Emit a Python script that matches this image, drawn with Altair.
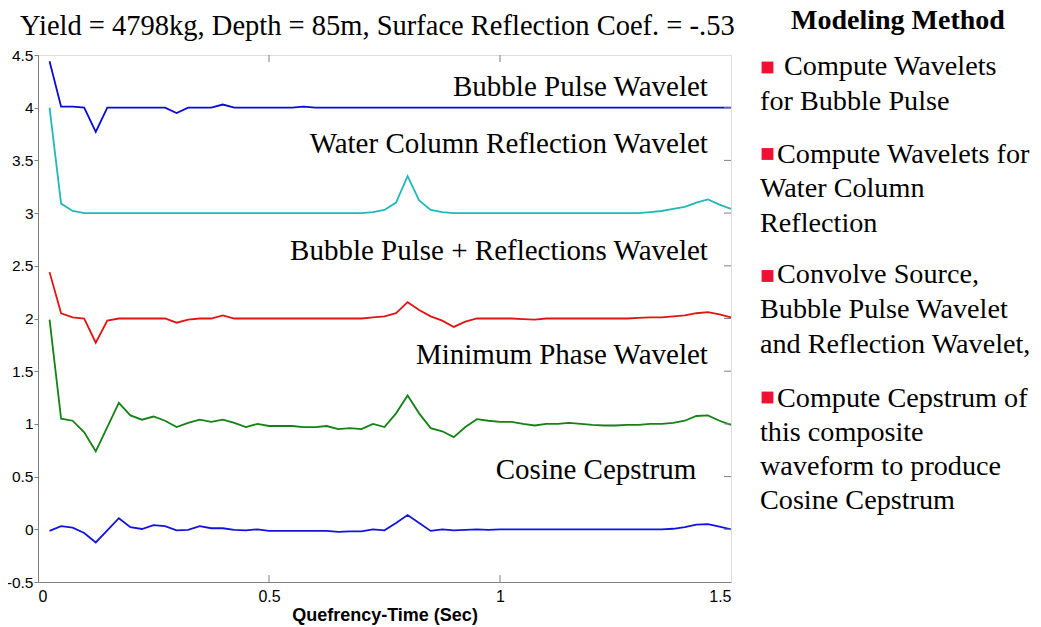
import altair as alt
import pandas as pd

# ---------------- data ----------------
times = [0.025, 0.05, 0.075, 0.1, 0.125, 0.15, 0.175, 0.2, 0.225, 0.25,
         0.275, 0.3, 0.325, 0.35, 0.375, 0.4, 0.425, 0.45, 0.475, 0.5,
         0.525, 0.55, 0.575, 0.6, 0.625, 0.65, 0.675, 0.7, 0.725, 0.75,
         0.775, 0.8, 0.825, 0.85, 0.875, 0.9, 0.925, 0.95, 0.975, 1.0,
         1.025, 1.05, 1.075, 1.1, 1.125, 1.15, 1.175, 1.2, 1.225, 1.25,
         1.275, 1.3, 1.325, 1.35, 1.375, 1.4, 1.425, 1.45, 1.475, 1.5]

bubble = [4.44, 4.01, 4.01, 4.00, 3.77, 4.00, 4.00, 4.00, 4.00, 4.00,
          4.00, 3.95, 4.00, 4.00, 4.00, 4.03, 4.00, 4.00, 4.00, 4.00,
          4.00, 4.00, 4.01, 4.00, 4.00, 4.00, 4.00, 4.00, 4.00, 4.00,
          4.00, 4.00, 4.00, 4.00, 4.00, 4.00, 4.00, 4.00, 4.00, 4.00,
          4.00, 4.00, 4.00, 4.00, 4.00, 4.00, 4.00, 4.00, 4.00, 4.00,
          4.00, 4.00, 4.00, 4.00, 4.00, 4.00, 4.00, 4.00, 4.00, 4.00]

water = [4.00, 3.09, 3.02, 3.00, 3.00, 3.00, 3.00, 3.00, 3.00, 3.00,
         3.00, 3.00, 3.00, 3.00, 3.00, 3.00, 3.00, 3.00, 3.00, 3.00,
         3.00, 3.00, 3.00, 3.00, 3.00, 3.00, 3.00, 3.00, 3.01, 3.03,
         3.10, 3.35, 3.12, 3.03, 3.01, 3.00, 3.00, 3.00, 3.00, 3.00,
         3.00, 3.00, 3.00, 3.00, 3.00, 3.00, 3.00, 3.00, 3.00, 3.00,
         3.00, 3.00, 3.01, 3.02, 3.04, 3.06, 3.10, 3.13, 3.08, 3.04]

combined = [2.44, 2.05, 2.01, 2.00, 1.77, 1.98, 2.00, 2.00, 2.00, 2.00,
            2.00, 1.96, 1.99, 2.00, 2.00, 2.03, 2.00, 2.00, 2.00, 2.00,
            2.00, 2.00, 2.00, 2.00, 2.00, 2.00, 2.00, 2.00, 2.01, 2.02,
            2.05, 2.155, 2.08, 2.02, 1.98, 1.92, 1.97, 2.00, 2.00, 2.00,
            2.00, 1.995, 1.99, 2.00, 2.00, 2.00, 2.00, 2.00, 2.00, 2.00,
            2.00, 2.005, 2.01, 2.01, 2.02, 2.03, 2.05, 2.06, 2.04, 2.01]

minphase = [1.99, 1.05, 1.03, 0.92, 0.74, 0.97, 1.20, 1.08, 1.04, 1.07,
            1.03, 0.97, 1.01, 1.04, 1.02, 1.04, 1.01, 0.97, 1.00, 0.98,
            0.98, 0.98, 0.97, 0.97, 0.98, 0.95, 0.96, 0.95, 1.00, 0.97,
            1.10, 1.27, 1.10, 0.96, 0.93, 0.875, 0.97, 1.045, 1.03, 1.02,
            1.02, 1.00, 0.985, 1.00, 1.00, 1.01, 1.00, 0.99, 0.985, 0.985,
            0.99, 0.99, 1.00, 1.00, 1.01, 1.03, 1.075, 1.08, 1.03, 0.99]

cepstrum = [-0.015, 0.03, 0.015, -0.035, -0.125, -0.01, 0.105, 0.02, 0.003, 0.04,
            0.03, -0.01, -0.005, 0.03, 0.01, 0.01, -0.005, -0.01, 0.0, -0.015,
            -0.015, -0.015, -0.015, -0.015, -0.015, -0.025, -0.02, -0.02, 0.0, -0.01,
            0.06, 0.135, 0.06, -0.015, 0.0, -0.01, -0.005, 0.0, -0.005, 0.0,
            0.0, 0.0, 0.0, 0.0, 0.0, 0.0, 0.0, 0.0, 0.0, 0.0,
            0.0, 0.0, 0.0, 0.0, 0.005, 0.02, 0.045, 0.05, 0.025, 0.0]

series_names = ["Bubble Pulse Wavelet", "Water Column Reflection Wavelet",
                "Bubble Pulse + Reflections Wavelet", "Minimum Phase Wavelet",
                "Cosine Cepstrum"]
series_values = [bubble, water, combined, minphase, cepstrum]
series_colors = ["#0a0ad8", "#22b8b8", "#e01414", "#148214", "#1414d8"]

label_x = [1.45, 1.45, 1.45, 1.45, 1.425]
label_y = [4.11, 3.57, 2.555, 1.57, 0.48]

x_ticks = [0, 0.5, 1, 1.5]
y_ticks = [-0.5, 0, 0.5, 1, 1.5, 2, 2.5, 3, 3.5, 4, 4.5]
inner_x_ticks = [0.5, 1.0]
inner_y_ticks = [0, 0.5, 1, 1.5, 2, 2.5, 3, 3.5, 4]

title_text = "Yield = 4798kg, Depth = 85m, Surface Reflection Coef. = -.53"
panel_heading = "Modeling Method"
panel_lines = ["Compute Wavelets", "for Bubble Pulse",
               "Compute Wavelets for", "Water Column", "Reflection",
               "Convolve Source,", "Bubble Pulse Wavelet", "and Reflection Wavelet,",
               "Compute Cepstrum of", "this composite", "waveform to produce",
               "Cosine Cepstrum"]

# ---------------- layout (pixels, relative to plot area) ----------------
W, H = 693, 527
panel_x = [746, 722, 739, 722, 722, 739, 722, 722, 739, 722, 722, 722]
panel_y = [20, 55, 108, 142, 177, 228, 263, 298, 352, 386, 420, 454]
bullet_y = [12.5, 99, 221, 342.5]

rows = []
for name, vals in zip(series_names, series_values):
    for t, v in zip(times, vals):
        rows.append({"t": t, "v": v, "series": name})
df = pd.DataFrame(rows)

labels_df = pd.DataFrame({"series": series_names, "lx": label_x, "ly": label_y})

xs = alt.Scale(domain=[0, 1.5], nice=False, zero=False)
ys = alt.Scale(domain=[-0.5, 4.5], nice=False, zero=False)

lines = alt.Chart(df).mark_line(strokeWidth=1.8).encode(
    x=alt.X("t:Q", scale=xs,
            axis=alt.Axis(values=x_ticks, title="Quefrency-Time (Sec)",
                          labelExpr="'' + datum.value", tickSize=0,
                          labelPadding=6, titlePadding=2, grid=False,
                          labelFontSize=16, labelFont="Liberation Sans",
                          labelColor="black", titleFont="Liberation Sans",
                          titleFontSize=18, titleFontWeight="bold",
                          titleColor="black", domainColor="#808080")),
    y=alt.Y("v:Q", scale=ys,
            axis=alt.Axis(values=y_ticks, title=None,
                          labelExpr="'' + datum.value", tickSize=4,
                          tickColor="#808080", labelPadding=1, grid=False,
                          labelFontSize=15.5, labelFont="Liberation Sans",
                          labelColor="black", domainColor="#808080")),
    color=alt.Color("series:N", scale=alt.Scale(domain=series_names, range=series_colors),
                    legend=None),
    detail="series:N",
)

labels = alt.Chart(labels_df).mark_text(
    align="right", baseline="alphabetic", font="Liberation Serif",
    fontSize=29, color="black"
).encode(x=alt.X("lx:Q", scale=xs), y=alt.Y("ly:Q", scale=ys), text="series:N")

tx_df = pd.DataFrame({"t": inner_x_ticks})
ty_df = pd.DataFrame({"v": inner_y_ticks})
bottom_ticks = alt.Chart(tx_df).mark_rule(color="#808080").encode(
    x=alt.X("t:Q", scale=xs), y=alt.value(H), y2=alt.value(H - 7))
top_ticks = alt.Chart(tx_df).mark_rule(color="#808080").encode(
    x=alt.X("t:Q", scale=xs), y=alt.value(0), y2=alt.value(7))
right_ticks = alt.Chart(ty_df).mark_rule(color="#808080").encode(
    y=alt.Y("v:Q", scale=ys), x=alt.value(W), x2=alt.value(W - 7))

one = pd.DataFrame({"a": [0]})
title = alt.Chart(one).mark_text(
    align="left", baseline="alphabetic", font="Liberation Serif",
    fontSize=28.5, color="black"
).encode(x=alt.value(-18), y=alt.value(-20), text=alt.value(title_text))

heading = alt.Chart(one).mark_text(
    align="center", baseline="alphabetic", font="Liberation Serif",
    fontSize=28, fontWeight="bold", color="black"
).encode(x=alt.value(860), y=alt.value(-26), text=alt.value(panel_heading))

panel_layers = []
for txt, px, py in zip(panel_lines, panel_x, panel_y):
    panel_layers.append(alt.Chart(one).mark_text(
        align="left", baseline="alphabetic", font="Liberation Serif",
        fontSize=28.2, color="black"
    ).encode(x=alt.value(px), y=alt.value(py), text=alt.value(txt)))
for by in bullet_y:
    panel_layers.append(alt.Chart(one).mark_square(
        size=140, color="#ee1133", opacity=1, filled=True
    ).encode(x=alt.value(729.5), y=alt.value(by)))

chart = alt.layer(
    lines, labels, bottom_ticks, top_ticks, right_ticks, title, heading, *panel_layers
).properties(
    width=W, height=H,
    autosize=alt.AutoSizeParams(type="none"),
    padding={"left": 30, "top": 47, "right": 302, "bottom": 45},
).configure_view(stroke="#808080", strokeWidth=1).configure(background="white")

chart.save("out.html", embed_options={"renderer": "svg", "actions": False})
